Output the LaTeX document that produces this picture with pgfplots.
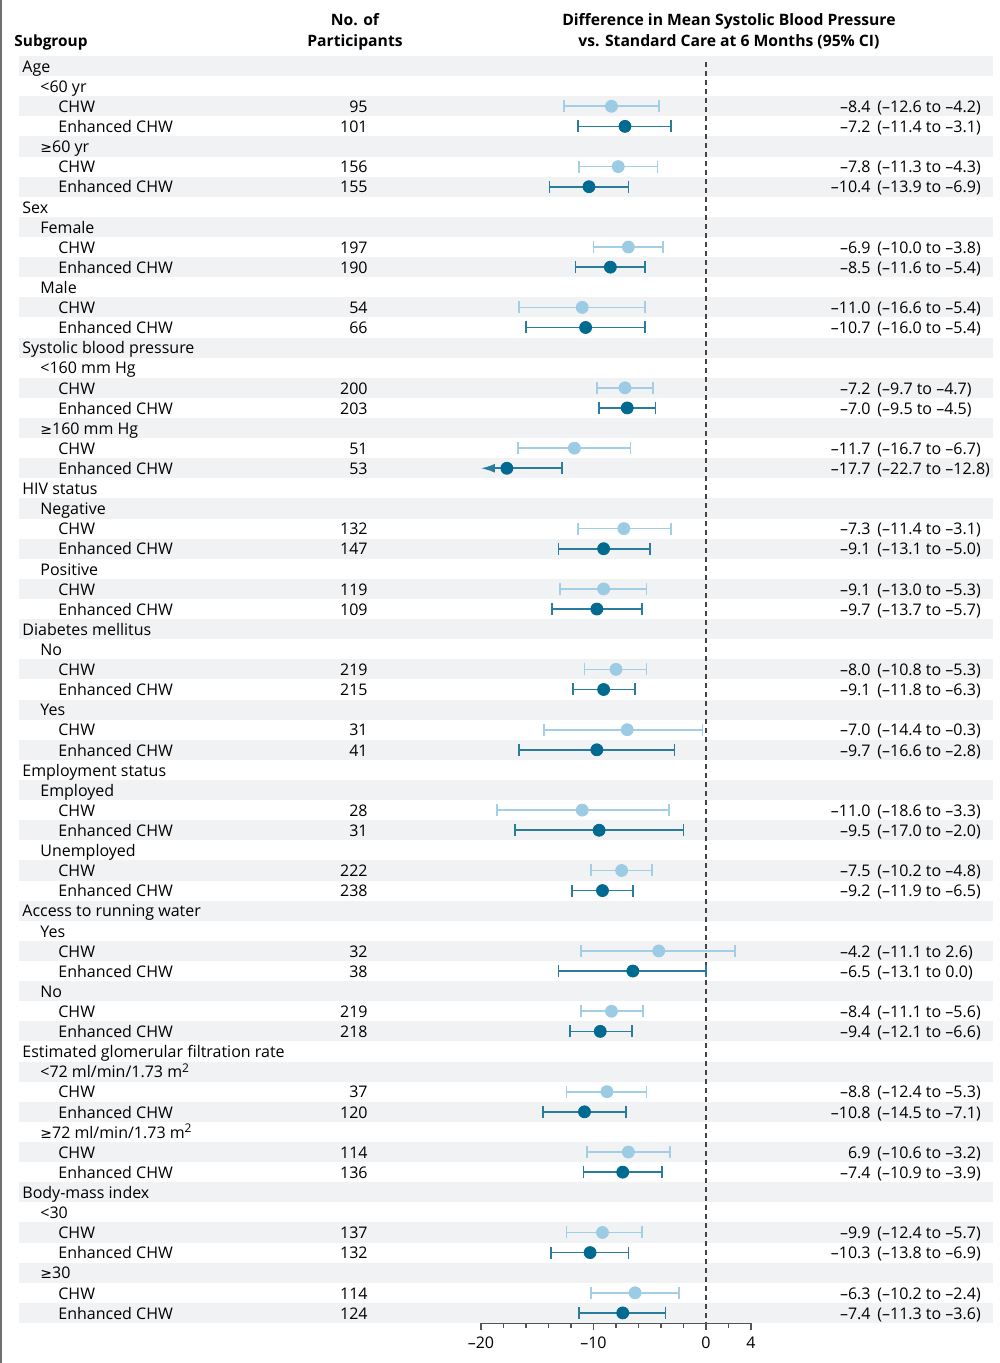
\documentclass[border=0pt]{standalone}
\usepackage{fontspec}
\setmainfont{Open Sans}
\newfontfamily\sym{DejaVu Sans}
\usepackage{pgfplots}
\pgfplotsset{compat=1.18}
\usepackage{pgfplotstable}
\usetikzlibrary{arrows.meta}

\definecolor{stripe}{HTML}{F1F2F4}
\definecolor{chwdot}{HTML}{9CCBE4}
\definecolor{chwline}{HTML}{A2CFE6}
\definecolor{enhdot}{HTML}{006A90}
\definecolor{enhline}{HTML}{2A7C9C}
\definecolor{axisgray}{HTML}{555555}
\definecolor{dashgray}{HTML}{444444}
\definecolor{edgegray}{HTML}{707070}

% row = line number from the top, est and 95% CI
\pgfplotstableread{
row est lo hi
2 -8.4 -12.6 -4.2
5 -7.8 -11.3 -4.3
9 -6.9 -10.0 -3.8
12 -11.0 -16.6 -5.4
16 -7.2 -9.7 -4.7
19 -11.7 -16.7 -6.7
23 -7.3 -11.4 -3.1
26 -9.1 -13.0 -5.3
30 -8.0 -10.8 -5.3
33 -7.0 -14.4 -0.3
37 -11.0 -18.6 -3.3
40 -7.5 -10.2 -4.8
44 -4.2 -11.1 2.6
47 -8.4 -11.1 -5.6
51 -8.8 -12.4 -5.3
54 -6.9 -10.6 -3.2
58 -9.2 -12.4 -5.7
61 -6.3 -10.2 -2.4
}\chw

\pgfplotstableread{
row est lo hi
3 -7.2 -11.4 -3.1
6 -10.4 -13.9 -6.9
10 -8.5 -11.6 -5.4
13 -10.7 -16.0 -5.4
17 -7.0 -9.5 -4.5
24 -9.1 -13.1 -5.0
27 -9.7 -13.7 -5.7
31 -9.1 -11.8 -6.3
34 -9.7 -16.6 -2.8
38 -9.5 -17.0 -2.0
41 -9.2 -11.9 -6.5
45 -6.5 -13.1 0.0
48 -9.4 -12.1 -6.6
52 -10.8 -14.5 -7.1
55 -7.4 -10.9 -3.9
59 -10.3 -13.8 -6.9
62 -7.4 -11.3 -3.6
}\enh

\tikzset{
  lab/.style={anchor=base west, inner sep=0pt, yshift=-3.1pt},
  labr/.style={anchor=base east, inner sep=0pt, yshift=-3.1pt},
  hd/.style={anchor=base, inner sep=0pt, font=\fontsize{7.85}{9}\selectfont\bfseries},
}
\newcommand\grp[2]{\node[lab] at (axis cs:-60.8,-#1) {#2};}
\newcommand\sub[2]{\node[lab] at (axis cs:-59.2,-#1) {#2};}
\newcommand\arm[5]{%
  \node[lab] at (axis cs:-57.6,-#1) {#2};
  \node[labr] at (axis cs:-30.04,-#1) {#3};
  \node[labr] at (axis cs:14.67,-#1) {#4};
  \node[lab] at (axis cs:15.2,-#1) {(#5)};}
\newcommand\GE{{\sym\fontsize{7}{8}\selectfont ≥}}

\begin{document}
\fontsize{8}{9.6}\selectfont
\begin{tikzpicture}
\begin{axis}[
  scale only axis, width=135pt, height=633.5pt,
  xmin=-20, xmax=4, ymin=-62.5, ymax=0.5,
  clip=false,
  axis x line=bottom, axis y line=none,
  x axis line style={-, draw=axisgray, line width=0.7pt},
  xtick={-20,-10,0,4}, xticklabels={–20,–10,0,4},
  minor xtick={-18,-16,-14,-12,-8,-6,-4,-2,2},
  tick align=outside, major tick length=3.5pt, minor tick length=2.5pt,
  every tick/.style={axisgray, line width=0.7pt},
  xticklabel style={font=\fontsize{8}{9.6}\selectfont, inner sep=0pt, anchor=north, yshift=-3.5pt},
  ytick=\empty,
]
% row stripes
\pgfplotsinvokeforeach{0,2,...,62}{
  \fill[stripe] (axis cs:-61.07,-#1+0.5) rectangle (axis cs:25.51,-#1-0.5);
}
\draw[edgegray, line width=1pt] (axis cs:-62.667,3.285) -- (axis cs:-62.667,-64.49);
\coordinate (BL) at (axis cs:-62.756,-64.49);
\coordinate (TR) at (axis cs:26.133,3.285);

% no-difference line
\addplot[dashgray, dash pattern=on 2.5pt off 2pt, line width=0.6pt] coordinates {(0,0.2) (0,-62.5)};

% confidence intervals
\addplot[only marks, mark=none, forget plot,
  error bars/.cd, x dir=both, x explicit, error mark=|,
  error bar style={draw=chwline, line width=0.85pt},
  error mark options={draw=chwline, line width=0.85pt, mark size=3pt}]
  table[x=est, y expr=-\thisrow{row},
    x error plus expr=\thisrow{hi}-\thisrow{est},
    x error minus expr=\thisrow{est}-\thisrow{lo}] {\chw};
\addplot[only marks, mark=none, forget plot,
  error bars/.cd, x dir=both, x explicit, error mark=|,
  error bar style={draw=enhline, line width=0.85pt},
  error mark options={draw=enhline, line width=0.85pt, mark size=3pt}]
  table[x=est, y expr=-\thisrow{row},
    x error plus expr=\thisrow{hi}-\thisrow{est},
    x error minus expr=\thisrow{est}-\thisrow{lo}] {\enh};
% truncated interval (lower bound -22.7 beyond the axis)
\addplot[enhline, line width=0.85pt, -{Latex[length=7pt,width=4.5pt]}]
  coordinates {(-12.8,-20) (-20,-20)};
\addplot[only marks, mark=|, mark size=3pt, enhline, line width=0.85pt]
  coordinates {(-12.8,-20)};

% point estimates
\addplot[only marks, mark=*, mark size=3pt, chwdot]
  table[x=est, y expr=-\thisrow{row}] {\chw};
\addplot[only marks, mark=*, mark size=3pt, enhdot]
  table[x=est, y expr=-\thisrow{row}] {\enh};
\addplot[only marks, mark=*, mark size=3pt, enhdot] coordinates {(-17.7,-20)};

% headers
\node[anchor=base west, inner sep=0pt, font=\fontsize{7.7}{9}\selectfont\bfseries] at (axis cs:-61.51,0.962) {Subgroup};
\node[hd] at (axis cs:-31.2,2.041) {No. of};
\node[hd] at (axis cs:-31.2,0.962) {Participants};
\node[hd] at (axis cs:2.04,2.041) {Difference in Mean Systolic Blood Pressure};
\node[hd] at (axis cs:2.04,0.962) {vs. Standard Care at 6 Months (95\% CI)};

% table text
\grp{0}{Age}
\sub{1}{<60 yr}
\arm{2}{CHW}{95}{–8.4}{–12.6 to –4.2}
\arm{3}{Enhanced CHW}{101}{–7.2}{–11.4 to –3.1}
\sub{4}{\GE60 yr}
\arm{5}{CHW}{156}{–7.8}{–11.3 to –4.3}
\arm{6}{Enhanced CHW}{155}{–10.4}{–13.9 to –6.9}
\grp{7}{Sex}
\sub{8}{Female}
\arm{9}{CHW}{197}{–6.9}{–10.0 to –3.8}
\arm{10}{Enhanced CHW}{190}{–8.5}{–11.6 to –5.4}
\sub{11}{Male}
\arm{12}{CHW}{54}{–11.0}{–16.6 to –5.4}
\arm{13}{Enhanced CHW}{66}{–10.7}{–16.0 to –5.4}
\grp{14}{Systolic blood pressure}
\sub{15}{<160 mm Hg}
\arm{16}{CHW}{200}{–7.2}{–9.7 to –4.7}
\arm{17}{Enhanced CHW}{203}{–7.0}{–9.5 to –4.5}
\sub{18}{\GE160 mm Hg}
\arm{19}{CHW}{51}{–11.7}{–16.7 to –6.7}
\arm{20}{Enhanced CHW}{53}{–17.7}{–22.7 to –12.8}
\grp{21}{HIV status}
\sub{22}{Negative}
\arm{23}{CHW}{132}{–7.3}{–11.4 to –3.1}
\arm{24}{Enhanced CHW}{147}{–9.1}{–13.1 to –5.0}
\sub{25}{Positive}
\arm{26}{CHW}{119}{–9.1}{–13.0 to –5.3}
\arm{27}{Enhanced CHW}{109}{–9.7}{–13.7 to –5.7}
\grp{28}{Diabetes mellitus}
\sub{29}{No}
\arm{30}{CHW}{219}{–8.0}{–10.8 to –5.3}
\arm{31}{Enhanced CHW}{215}{–9.1}{–11.8 to –6.3}
\sub{32}{Yes}
\arm{33}{CHW}{31}{–7.0}{–14.4 to –0.3}
\arm{34}{Enhanced CHW}{41}{–9.7}{–16.6 to –2.8}
\grp{35}{Employment status}
\sub{36}{Employed}
\arm{37}{CHW}{28}{–11.0}{–18.6 to –3.3}
\arm{38}{Enhanced CHW}{31}{–9.5}{–17.0 to –2.0}
\sub{39}{Unemployed}
\arm{40}{CHW}{222}{–7.5}{–10.2 to –4.8}
\arm{41}{Enhanced CHW}{238}{–9.2}{–11.9 to –6.5}
\grp{42}{Access to running water}
\sub{43}{Yes}
\arm{44}{CHW}{32}{–4.2}{–11.1 to 2.6}
\arm{45}{Enhanced CHW}{38}{–6.5}{–13.1 to 0.0}
\sub{46}{No}
\arm{47}{CHW}{219}{–8.4}{–11.1 to –5.6}
\arm{48}{Enhanced CHW}{218}{–9.4}{–12.1 to –6.6}
\grp{49}{Estimated glomerular filtration rate}
\sub{50}{<72 ml/min/1.73 m\textsuperscript{2}}
\arm{51}{CHW}{37}{–8.8}{–12.4 to –5.3}
\arm{52}{Enhanced CHW}{120}{–10.8}{–14.5 to –7.1}
\sub{53}{\GE72 ml/min/1.73 m\textsuperscript{2}}
\arm{54}{CHW}{114}{6.9}{–10.6 to –3.2}
\arm{55}{Enhanced CHW}{136}{–7.4}{–10.9 to –3.9}
\grp{56}{Body-mass index}
\sub{57}{<30}
\arm{58}{CHW}{137}{–9.9}{–12.4 to –5.7}
\arm{59}{Enhanced CHW}{132}{–10.3}{–13.8 to –6.9}
\sub{60}{\GE30}
\arm{61}{CHW}{114}{–6.3}{–10.2 to –2.4}
\arm{62}{Enhanced CHW}{124}{–7.4}{–11.3 to –3.6}
\end{axis}
\pgfresetboundingbox
\path[use as bounding box] (BL) rectangle (TR);
\end{tikzpicture}
\end{document}
